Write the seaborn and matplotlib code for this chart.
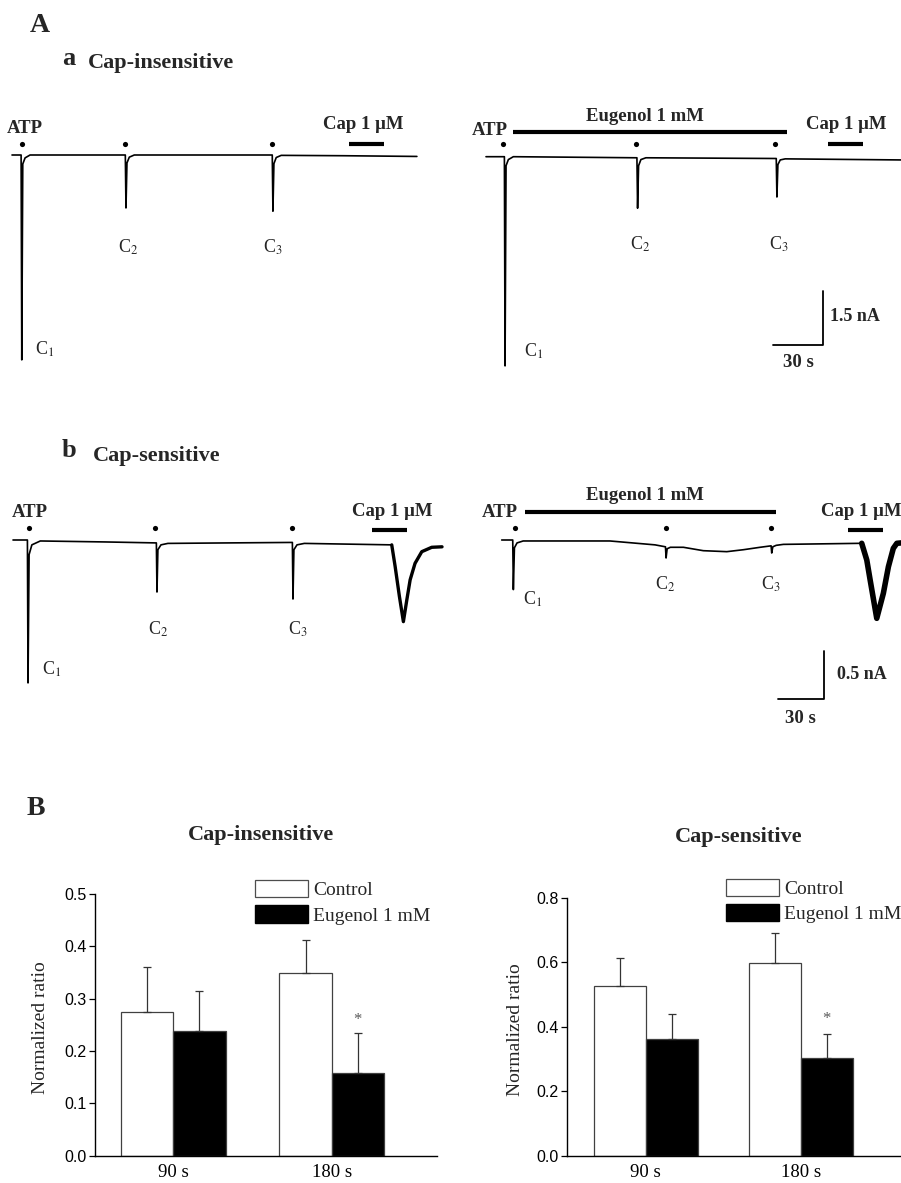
import numpy as np
import pandas as pd
import seaborn as sns
import matplotlib.pyplot as plt
from matplotlib.patches import Patch

sns.set_theme(style="white")
plt.rcParams['font.family'] = ['Liberation Serif', 'DejaVu Serif']
plt.rcParams['mathtext.fontset'] = 'stix'

# ---- panel A: whole-cell current traces (time in s, current in nA) ----
# a, Cap-insensitive, control
a_ctrl_t = [0, 5.5, 5.9, 6.5, 7.9, 10.9, 68.4, 68.8, 69.4, 70.8, 73.8, 157.1, 157.5, 158.1, 159.5, 162.5, 200, 244.4]
a_ctrl_i = [0, 0, -5.69, -0.25, -0.08, 0, 0, -1.47, -0.22, -0.06, 0, 0, -1.56, -0.24, -0.07, -0.01, -0.02, -0.04]
a_ctrl_atp = [5.9, 68.2, 157.0]
a_ctrl_cap = [203.4, 224.5]

# a, Cap-insensitive, eugenol
a_eug_t = [0, 11.1, 11.5, 12.1, 13.5, 16.5, 91.1, 91.5, 92.1, 93.5, 96.5, 175.2, 175.6, 176.2, 177.6, 180.6, 250.5]
a_eug_i = [0, 0, -5.81, -0.25, -0.08, 0, -0.03, -1.43, -0.25, -0.08, -0.03, -0.05, -1.12, -0.22, -0.09, -0.06, -0.09]
a_eug_atp = [10.3, 90.5, 174.4]
a_eug_bar = [16.1, 181.5]
a_eug_cap = [206.4, 227.5]

# b, Cap-sensitive, control
b_ctrl_t = [0, 9.4, 9.8, 10.5, 12.3, 17.8, 60, 93.5, 93.9, 94.5, 96.5, 101, 140, 182.2, 182.6, 183.2, 185.2, 190,
            247.0, 249.2, 252.0, 254.6, 256.8, 259.0, 262.2, 266.6, 273.1, 279.8]
b_ctrl_i = [0, 0, -1.47, -0.15, -0.05, -0.01, -0.02, -0.03, -0.535, -0.1, -0.05, -0.035, -0.03, -0.025, -0.607, -0.1, -0.05, -0.035,
            -0.05, -0.27, -0.58, -0.84, -0.62, -0.41, -0.24, -0.12, -0.075, -0.07]
b_ctrl_atp = [10.4, 92.6, 182.0]
b_ctrl_cap = [234.0, 257.0]

# b, Cap-sensitive, eugenol
b_eug_t = [0, 7.2, 7.6, 8.3, 10, 14, 64, 70.6, 100, 106.8, 107.2, 107.9, 110, 118.5, 131.5, 146.8, 157.6, 168.5,
           175.7, 176.1, 176.8, 179, 183.7, 234.8, 238.1, 240.3, 244.6, 248.9, 252.2, 255.4, 257.7, 260.5]
b_eug_i = [0, 0, -0.51, -0.08, -0.03, -0.01, -0.01, -0.01, -0.05, -0.07, -0.185, -0.09, -0.075, -0.075, -0.11, -0.12, -0.10, -0.075,
           -0.06, -0.134, -0.07, -0.055, -0.045, -0.034, -0.206, -0.412, -0.806, -0.549, -0.275, -0.086, -0.034, -0.03]
b_eug_atp = [8.7, 107.2, 175.6]
b_eug_bar = [15.2, 179.2]
b_eug_cap = [226.0, 248.7]

# ---- panel B: normalized ratio ----
times = ['90 s', '180 s']
groups = ['Control', 'Eugenol 1 mM']
insens_ctrl = [0.275, 0.350]
insens_ctrl_err = [0.086, 0.063]
insens_eug = [0.239, 0.158]
insens_eug_err = [0.076, 0.076]
sens_ctrl = [0.526, 0.596]
sens_ctrl_err = [0.088, 0.093]
sens_eug = [0.361, 0.302]
sens_eug_err = [0.077, 0.075]

W, H = 901, 1183
fig = plt.figure(figsize=(W / 100, H / 100), dpi=100)


def txt(x, y, s, size, bold=False, ha='left', **kw):
    fig.text(x / W, 1 - y / H, s, fontsize=size, fontweight='bold' if bold else 'normal',
             ha=ha, va='baseline', **kw)


def trace_axes(x0, y0, sx, sy, left, right, top, bottom):
    ax = fig.add_axes([left / W, 1 - bottom / H, (right - left) / W, (bottom - top) / H])
    ax.set_xlim((left - x0) / sx, (right - x0) / sx)
    ax.set_ylim(-(bottom - y0) / sy, (y0 - top) / sy)
    ax.axis('off')
    return ax


def draw_trace(ax, t, i, atp, dot_y, cap, cap_y, eug=None, eug_y=None, cap_lw=None):
    t = np.array(t)
    i = np.array(i)
    sns.lineplot(x=t, y=i, ax=ax, color='black', lw=1.2, estimator=None, sort=False)
    if cap_lw:
        m = t >= cap[0]
        sns.lineplot(x=t[m], y=i[m], ax=ax, color='black', lw=cap_lw, estimator=None, sort=False)
    sns.scatterplot(x=atp, y=[dot_y] * len(atp), ax=ax, color='black', s=14, linewidth=0)
    ax.hlines(cap_y, cap[0], cap[1], color='black', lw=3)
    if eug is not None:
        ax.hlines(eug_y, eug[0], eug[1], color='black', lw=3)


# top row: 30 s = 49.7 px, 1.5 nA = 54 px
sx_a, sy_a = 49.7 / 30, 54 / 1.5
ax1 = trace_axes(12, 155, sx_a, sy_a, 0, 450, 90, 390)
draw_trace(ax1, a_ctrl_t, a_ctrl_i, a_ctrl_atp, 0.31, a_ctrl_cap, 0.31)
ax2 = trace_axes(486, 156.7, sx_a, sy_a, 450, 901, 90, 390)
draw_trace(ax2, a_eug_t, a_eug_i, a_eug_atp, 0.35, a_eug_cap, 0.35, a_eug_bar, 0.69)
ax2.plot([173.2, 203.2, 203.2], [-5.23, -5.23, -3.73], color='black', lw=1.3)

# bottom row: 30 s = 46 px, 0.5 nA = 48.6 px
sx_b, sy_b = 46 / 30, 48.6 / 0.5
ax3 = trace_axes(13, 540, sx_b, sy_b, 0, 450, 480, 730)
draw_trace(ax3, b_ctrl_t, b_ctrl_i, b_ctrl_atp, 0.123, b_ctrl_cap, 0.10, cap_lw=2.4)
ax4 = trace_axes(501.7, 540, sx_b, sy_b, 450, 901, 480, 730)
draw_trace(ax4, b_eug_t, b_eug_i, b_eug_atp, 0.123, b_eug_cap, 0.10, b_eug_bar, 0.29, cap_lw=4.0)
ax4.plot([180.2, 210.2, 210.2], [-1.639, -1.639, -1.139], color='black', lw=1.3)

# panel A texts
txt(30, 32, 'A', 20, bold=True)
txt(62, 65, 'a', 19, bold=True)
txt(88, 68, 'Cap-insensitive', 16, bold=True)
txt(7, 133, 'ATP', 13.5, bold=True)
txt(323, 129, 'Cap 1 μM', 13.5, bold=True)
txt(35, 355, 'C$_1$', 13)
txt(118, 253, 'C$_2$', 13)
txt(263, 253, 'C$_3$', 13)
txt(472, 135, 'ATP', 13.5, bold=True)
txt(645, 121, 'Eugenol 1 mM', 13.5, bold=True, ha='center')
txt(806, 129, 'Cap 1 μM', 13.5, bold=True)
txt(524, 357, 'C$_1$', 13)
txt(630, 250, 'C$_2$', 13)
txt(769, 250, 'C$_3$', 13)
txt(830, 321, '1.5 nA', 13, bold=True)
txt(783, 367, '30 s', 13.5, bold=True)

txt(62, 457, 'b', 19, bold=True)
txt(93, 461, 'Cap-sensitive', 16, bold=True)
txt(12, 517, 'ATP', 13.5, bold=True)
txt(352, 516, 'Cap 1 μM', 13.5, bold=True)
txt(42, 675, 'C$_1$', 13)
txt(148, 635, 'C$_2$', 13)
txt(288, 635, 'C$_3$', 13)
txt(645, 500, 'Eugenol 1 mM', 13.5, bold=True, ha='center')
txt(482, 517, 'ATP', 13.5, bold=True)
txt(821, 516, 'Cap 1 μM', 13.5, bold=True)
txt(523, 605, 'C$_1$', 13)
txt(655, 590, 'C$_2$', 13)
txt(761, 590, 'C$_3$', 13)
txt(837, 679, '0.5 nA', 13, bold=True)
txt(785, 723, '30 s', 13.5, bold=True)

# ---- panel B ----
txt(27, 815, 'B', 20, bold=True)
txt(261, 840, 'Cap-insensitive', 16, bold=True, ha='center')
txt(739, 842, 'Cap-sensitive', 16, bold=True, ha='center')


def bar_panel(box, ctrl, ctrl_err, eug, eug_err, ymax, step, xlim, width, star_off, legend_xy, label_x):
    l, r, top, bottom = box
    ax = fig.add_axes([l / W, 1 - bottom / H, (r - l) / W, (bottom - top) / H])
    df = pd.DataFrame({
        'time': times * 2,
        'group': [groups[0]] * 2 + [groups[1]] * 2,
        'ratio': ctrl + eug,
    })
    sns.barplot(data=df, x='time', y='ratio', hue='group', order=times, hue_order=groups,
                palette={'Control': 'white', 'Eugenol 1 mM': 'black'}, width=width,
                edgecolor='0.25', linewidth=0.9, legend=False, ax=ax)
    for cont, vals, errs in zip(ax.containers, [ctrl, eug], [ctrl_err, eug_err]):
        xs = [b.get_x() + b.get_width() / 2 for b in cont]
        ax.errorbar(xs, vals, yerr=[[0] * len(errs), errs], fmt='none', ecolor='0.2',
                    elinewidth=0.9, capsize=3, capthick=0.9)
    b = ax.containers[1][1]
    ax.annotate('*', (b.get_x() + b.get_width() / 2, eug[1] + eug_err[1]), xytext=(0, star_off),
                textcoords='offset points', ha='center', va='bottom', fontsize=12, color='0.35')
    ax.set_xlim(*xlim)
    ax.set_ylim(0, ymax)
    ticks = np.arange(0, ymax + 1e-9, step)
    ax.set_yticks(ticks)
    ax.set_yticklabels([f'{v:.1f}' for v in ticks], fontfamily='Liberation Sans', fontsize=11.5)
    ax.set_xticks([0, 1])
    ax.set_xticklabels(times, fontsize=13.5)
    ax.tick_params(axis='y', direction='out', length=4, width=0.9, pad=2, left=True, colors='black')
    ax.tick_params(axis='x', length=0, pad=6, colors='black')
    ax.set_xlabel('')
    ax.set_ylabel('Normalized ratio', fontsize=14)
    sns.despine(ax=ax)
    for s in ['left', 'bottom']:
        ax.spines[s].set_color('black')
        ax.spines[s].set_linewidth(1.0)
    ax.yaxis.set_label_coords((label_x - l) / (r - l), 0.49)
    handles = [Patch(facecolor='white', edgecolor='0.3', lw=0.9), Patch(facecolor='black', edgecolor='black')]
    ax.legend(handles, groups, loc='upper left', bbox_to_anchor=(legend_xy[0] / W, 1 - legend_xy[1] / H),
              bbox_transform=fig.transFigure, frameon=False, fontsize=14, handlelength=2.7,
              handleheight=1.0, handletextpad=0.3, labelspacing=0.3, borderpad=0, borderaxespad=0)
    return ax


bar_panel((95, 437, 894, 1155.7), insens_ctrl, insens_ctrl_err, insens_eug, insens_eug_err,
          0.5, 0.1, (-0.494, 1.665), 0.66, 4, (255, 880), 49)
bar_panel((567.3, 901, 897.7, 1155.7), sens_ctrl, sens_ctrl_err, sens_eug, sens_eug_err,
          0.8, 0.2, (-0.506, 1.647), 0.67, 5, (726, 878.5), 524)

fig.savefig('out.png', dpi=100)
